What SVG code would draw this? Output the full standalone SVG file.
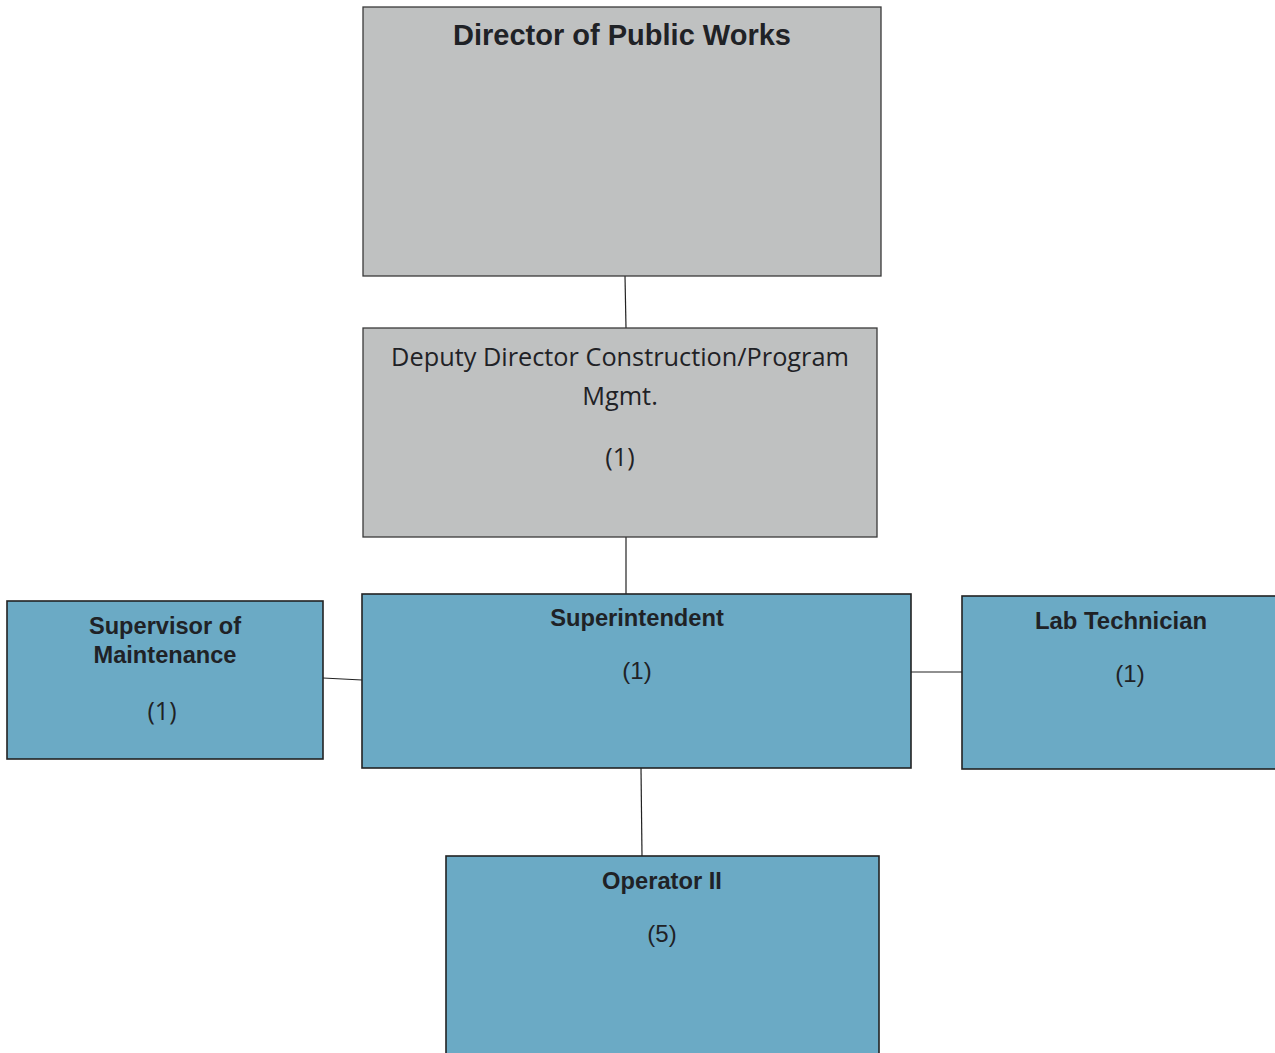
<svg xmlns="http://www.w3.org/2000/svg" width="1275" height="1053" viewBox="0 0 1275 1053">
  <style>
    .gray { fill: #bfc1c1; stroke: #3a3a3a; stroke-width: 1.3; }
    .blue { fill: #6baac5; stroke: #222; stroke-width: 1.6; }
    .title { font-family: "Liberation Sans", Arial, sans-serif; font-weight: bold; fill: #1f2226; text-anchor: middle; }
    .body { font-family: "Open Sans", "Noto Sans", sans-serif; fill: #1f2226; text-anchor: middle; }
    .count { font-family: "Liberation Sans", Arial, sans-serif; fill: #1f2226; text-anchor: middle; }
    .link { stroke: #222; stroke-width: 1.2; fill: none; }
  </style>
  <rect width="1275" height="1053" fill="#ffffff"/>

  <g id="connectors">
    <line class="link" x1="625" y1="276" x2="626" y2="328"/>
    <line class="link" x1="626" y1="537" x2="626" y2="594"/>
    <line class="link" x1="323" y1="678" x2="362" y2="680"/>
    <line class="link" x1="911" y1="672" x2="962" y2="672"/>
    <line class="link" x1="641" y1="768" x2="642" y2="856"/>
  </g>

  <g id="director">
    <rect class="gray" x="363" y="7" width="518" height="269"/>
    <text class="title" x="622" y="45" font-size="29">Director of Public Works</text>
  </g>

  <g id="deputy">
    <rect class="gray" x="363" y="328" width="514" height="209"/>
    <text class="body" x="620" y="366" font-size="25.3">Deputy Director Construction/Program</text>
    <text class="body" x="620" y="405" font-size="25.3">Mgmt.</text>
    <text class="body" x="620" y="466" font-size="25.3">(1)</text>
  </g>

  <g id="superintendent">
    <rect class="blue" x="362" y="594" width="549" height="174"/>
    <text class="title" x="637" y="626" font-size="23.7">Superintendent</text>
    <text class="count" x="637" y="679" font-size="24">(1)</text>
  </g>

  <g id="supervisor">
    <rect class="blue" x="7" y="601" width="316" height="158"/>
    <text class="title" x="165" y="634" font-size="23.6">Supervisor of</text>
    <text class="title" x="165" y="663" font-size="23.6">Maintenance</text>
    <text class="body" x="162" y="720" font-size="25">(1)</text>
  </g>

  <g id="lab-technician">
    <rect class="blue" x="962" y="596" width="320" height="173"/>
    <text class="title" x="1121" y="629" font-size="23.9">Lab Technician</text>
    <text class="count" x="1130" y="682" font-size="24">(1)</text>
  </g>

  <g id="operator">
    <rect class="blue" x="446" y="856" width="433" height="210"/>
    <text class="title" x="662" y="889" font-size="23.7">Operator II</text>
    <text class="count" x="662" y="942" font-size="24">(5)</text>
  </g>
</svg>
